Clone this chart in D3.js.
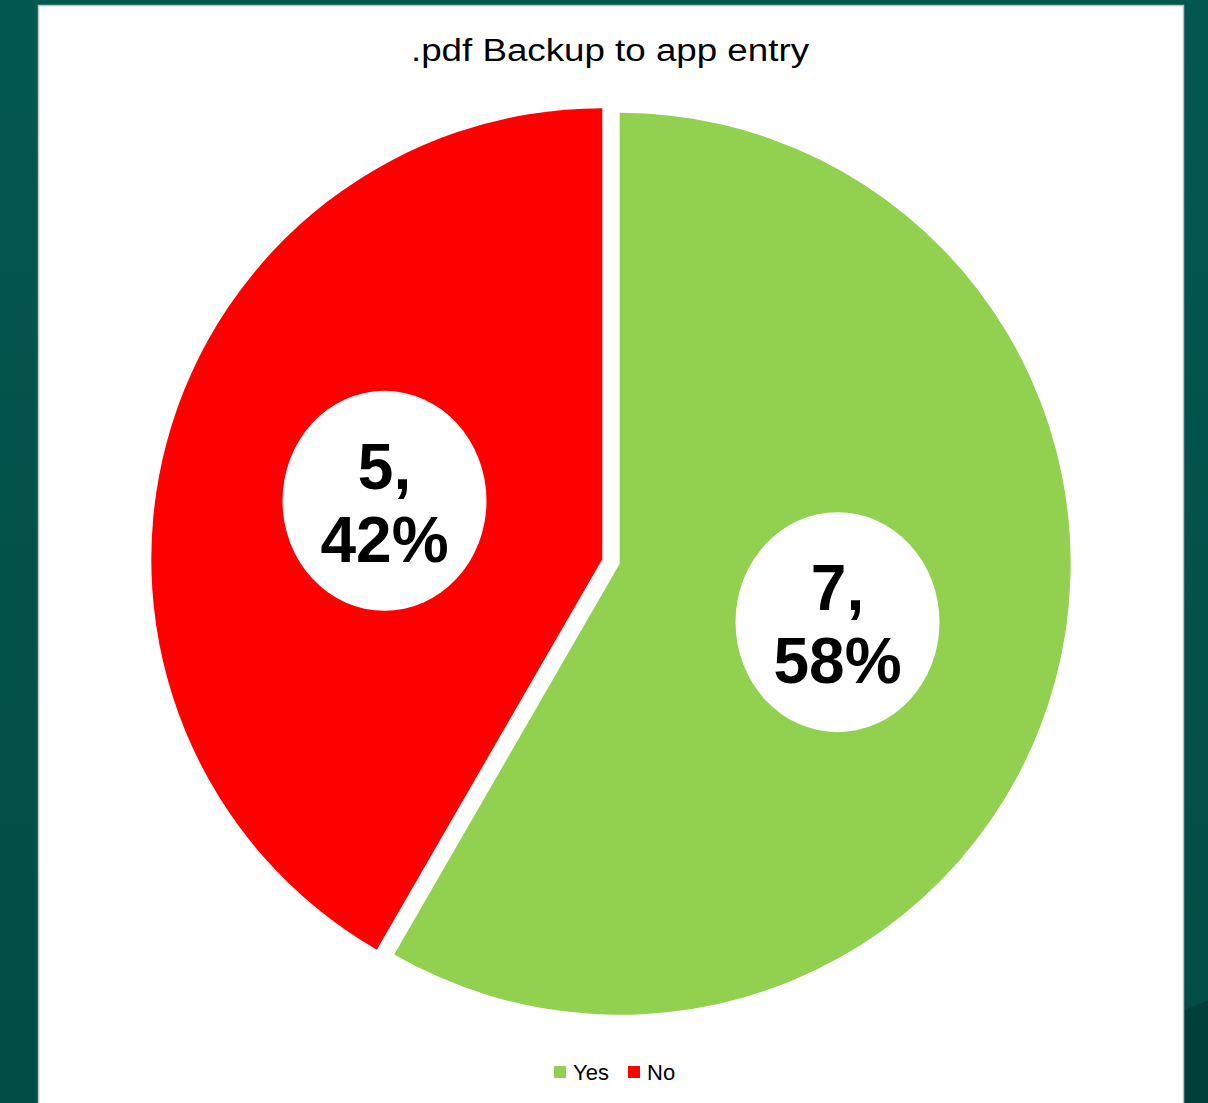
<!DOCTYPE html>
<html>
<head>
<meta charset="utf-8">
<script src="https://cdn.jsdelivr.net/npm/d3@7"></script>
<style>
body { margin: 0; overflow: hidden; }
</style>
</head>
<body>
<script>
// chart data
var title = ".pdf Backup to app entry";
var categories = ["Yes", "No"];
var values = [7, 5];

var W = 1208, H = 1103;

var svg = d3.select("body").append("svg");
svg.attr("width", W);
svg.attr("height", H);
svg.style("display", "block");

// slide background
var defs = svg.append("defs");
var grad = defs.append("linearGradient").attr("id", "bg").attr("x1", 0).attr("x2", 0).attr("y1", 0).attr("y2", 1);
grad.append("stop").attr("offset", "0%").attr("stop-color", "#02584f");
grad.append("stop").attr("offset", "100%").attr("stop-color", "#024d45");
svg.append("rect").attr("width", W).attr("height", H).attr("fill", "url(#bg)");
svg.append("path").attr("d", "M1185,1010 L1208,1000 L1208,1103 L1185,1103 Z").attr("fill", "#01403a");

// chart area
svg.append("rect")
    .attr("x", 38.5).attr("y", 5.5)
    .attr("width", 1145).attr("height", 1110)
    .attr("fill", "#ffffff")
    .attr("stroke", "#b9c4c2").attr("stroke-width", 1.5);

// title is a bit wider than the font, so stretch it to fit
svg.append("text")
    .attr("x", 411).attr("y", 61)
    .attr("textLength", 398)
    .attr("lengthAdjust", "spacingAndGlyphs")
    .style("font-family", "'Liberation Sans', Arial, sans-serif")
    .style("font-size", "31px")
    .style("fill", "#000")
    .text(title);

var color = d3.scaleOrdinal().domain(categories).range(["#92d050", "#ff0000"]);

var cx = 611, cy = 561.5, r = 451, explode = 9;
var total = d3.sum(values);

var pie = d3.pie().sort(null).value(function(d){ return d.value; });
var arc = d3.arc().innerRadius(0).outerRadius(r);

var slices = pie(categories.map(function(c, i){ return {name: c, value: values[i]}; }));

var g = svg.append("g").attr("transform", "translate(" + cx + "," + cy + ")");

var offset = function(d){
    var a = (d.startAngle + d.endAngle) / 2;
    return [Math.sin(a) * explode, -Math.cos(a) * explode];
};

var sg = g.selectAll("g.slice").data(slices).enter().append("g")
    .attr("class", "slice")
    .attr("transform", function(d){ var o = offset(d); return "translate(" + o[0] + "," + o[1] + ")"; });

sg.append("path")
    .attr("d", arc)
    .attr("fill", function(d){ return color(d.data.name); });

// labels in white bubbles
sg.append("ellipse")
    .attr("cx", function(d){ return arc.centroid(d)[0]; })
    .attr("cy", function(d){ return arc.centroid(d)[1]; })
    .attr("rx", 102).attr("ry", 110)
    .attr("fill", "#ffffff");

var lbl = sg.append("text")
    .attr("text-anchor", "middle")
    .style("font-family", "'Liberation Sans', Arial, sans-serif")
    .style("font-weight", "bold")
    .style("font-size", "64px")
    .style("fill", "#000");

lbl.append("tspan")
    .attr("x", function(d){ return arc.centroid(d)[0]; })
    .attr("y", function(d){ return arc.centroid(d)[1] - 12; })
    .text(function(d){ return d.data.value + ","; });
lbl.append("tspan")
    .attr("x", function(d){ return arc.centroid(d)[0]; })
    .attr("y", function(d){ return arc.centroid(d)[1] + 61; })
    .text(function(d){ return Math.round(d.data.value / total * 100) + "%"; });

// legend
var legendX = [554, 628];
var lg = svg.selectAll("g.legend").data(categories).enter().append("g")
    .attr("class", "legend")
    .attr("transform", function(d, i){ return "translate(" + legendX[i] + ",1066)"; });
lg.append("rect").attr("width", 12).attr("height", 12).attr("fill", function(d){ return color(d); });
lg.append("text")
    .attr("x", 19).attr("y", 13.5)
    .style("font-family", "'Liberation Sans', Arial, sans-serif")
    .style("font-size", "22px")
    .style("fill", "#000")
    .text(function(d){ return d; });
</script>
</body>
</html>
